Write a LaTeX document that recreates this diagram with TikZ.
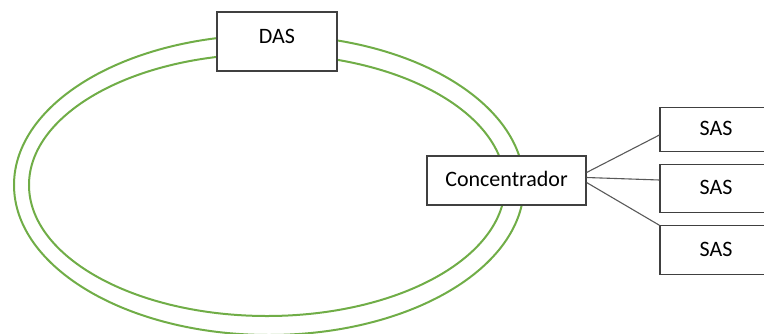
\documentclass[tikz,border=0pt]{standalone}
\usepackage{fontspec}
\setmainfont{Carlito}
\definecolor{ringgreen}{RGB}{112,173,71}
\definecolor{boxline}{RGB}{64,64,64}

\begin{document}
\begin{tikzpicture}[x=1pt, y=-1pt,
		ring/.style={ringgreen, line width=2pt},
		station/.style={draw=boxline, fill=white, line width=1.2pt, inner sep=0pt,
			font=\fontsize{22}{26}\selectfont, text height=16pt, text depth=4pt},
		link/.style={draw=black!65, line width=1.1pt}]
		\useasboundingbox (0, 0) rectangle (764, 333);
		\clip (0, 0) rectangle (764, 333);
		% double ring first, the boxes are filled white and sit on it
		\draw [ring] (269, 185) ellipse [x radius=255, y radius=150];
		\draw [ring] (267, 185) ellipse [x radius=238, y radius=131];
		% stations on the ring
		\node [station, minimum width=120pt, minimum height=59pt, text depth=13pt] (das) at (277, 41.5) {DAS};
		\node [station, minimum width=159pt, minimum height=49pt] (conc) at (506.5, 180.5) {Concentrador};
		% the three SAS run off the right edge
		\node [station, minimum width=112pt, minimum height=44.4pt] (sas1) at (716, 129.5) {SAS};
		\node [station, minimum width=112pt, minimum height=48.4pt] (sas2) at (716, 188.5) {SAS};
		\node [station, minimum width=112pt, minimum height=48.3pt] (sas3) at (716, 250) {SAS};
		% star from the concentrator
		\draw [link] ([yshift=8pt]conc.east) -- ([yshift=-5.5pt]sas1.west);
		\draw [link] ([yshift=3pt]conc.east) -- ([yshift=8.5pt]sas2.west);
		\draw [link] ([yshift=-2pt]conc.east) -- (sas3.north west);
	\end{tikzpicture}
\end{document}
